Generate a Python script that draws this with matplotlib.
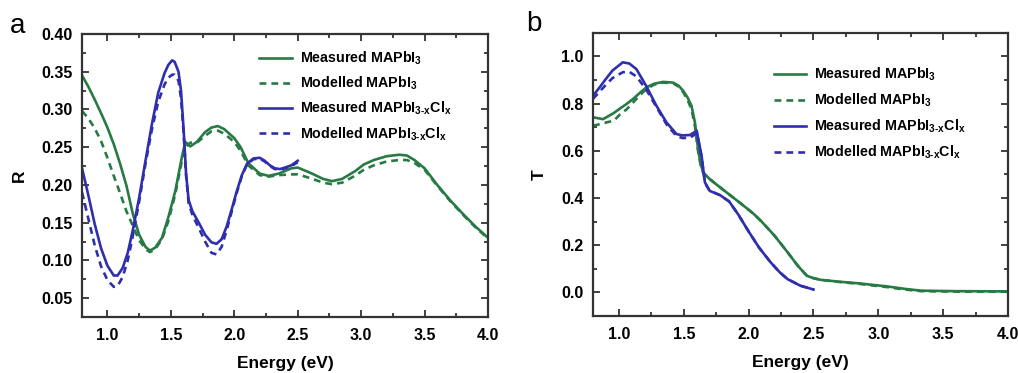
"""Reflectance and transmittance of MAPbI3 and MAPbI3-xClx films."""

import matplotlib

matplotlib.use("Agg")
import matplotlib.pyplot as plt
from matplotlib.ticker import MultipleLocator

plt.rcParams["font.family"] = "Liberation Sans"
plt.rcParams["font.weight"] = "bold"
plt.rcParams["axes.labelweight"] = "bold"
plt.rcParams["mathtext.fontset"] = "custom"
plt.rcParams["mathtext.rm"] = "Liberation Sans:bold"
plt.rcParams["mathtext.it"] = "Liberation Sans:bold"
plt.rcParams["mathtext.bf"] = "Liberation Sans:bold"

GREEN = "#277a44"
BLUE = "#2f2fae"
SPINE = "#333333"

# ---- panel a: reflectance ----
r_mapi_e = [0.80, 0.85, 0.90, 0.95, 1.00, 1.05, 1.10, 1.15, 1.20, 1.25,
            1.30, 1.335, 1.377, 1.43, 1.48, 1.535, 1.587, 1.614, 1.653,
            1.705, 1.77, 1.82, 1.87, 1.92, 2.00, 2.05, 2.11, 2.20, 2.27,
            2.35, 2.45, 2.50, 2.60, 2.70, 2.77, 2.85, 2.95, 3.02, 3.10,
            3.20, 3.30, 3.36, 3.42, 3.50, 3.60, 3.70, 3.80, 3.90, 4.00]
r_mapi_meas = [0.345, 0.330, 0.313, 0.295, 0.276, 0.254, 0.228, 0.199,
               0.162, 0.134, 0.118, 0.113, 0.117, 0.130, 0.157, 0.192,
               0.237, 0.257, 0.251, 0.257, 0.270, 0.276, 0.278, 0.274,
               0.262, 0.250, 0.229, 0.215, 0.212, 0.215, 0.222, 0.223,
               0.216, 0.208, 0.205, 0.208, 0.218, 0.227, 0.233, 0.238,
               0.240, 0.239, 0.233, 0.222, 0.200, 0.180, 0.162, 0.145,
               0.130]
r_mapi_mod = [0.298, 0.288, 0.275, 0.258, 0.236, 0.212, 0.189, 0.165,
              0.146, 0.127, 0.115, 0.111, 0.115, 0.128, 0.152, 0.188,
              0.232, 0.250, 0.256, 0.256, 0.265, 0.271, 0.272, 0.268,
              0.257, 0.245, 0.226, 0.213, 0.211, 0.213, 0.214, 0.214,
              0.209, 0.203, 0.201, 0.203, 0.212, 0.220, 0.226, 0.231,
              0.233, 0.233, 0.229, 0.220, 0.199, 0.179, 0.161, 0.144,
              0.129]

r_mapicl_e = [0.80, 0.85, 0.90, 0.95, 1.00, 1.05, 1.08, 1.12, 1.16, 1.20,
              1.25, 1.30, 1.35, 1.40, 1.45, 1.48, 1.51, 1.53, 1.56, 1.58,
              1.60, 1.62, 1.64, 1.67, 1.72, 1.77, 1.82, 1.86, 1.90, 1.94,
              1.98, 2.02, 2.06, 2.10, 2.15, 2.20, 2.24, 2.28, 2.32, 2.36,
              2.40, 2.45, 2.50]
r_mapicl_meas = [0.222, 0.186, 0.148, 0.116, 0.093, 0.080, 0.080, 0.090,
                 0.110, 0.140, 0.183, 0.232, 0.280, 0.322, 0.348, 0.359,
                 0.365, 0.363, 0.350, 0.325, 0.275, 0.215, 0.180, 0.165,
                 0.150, 0.134, 0.124, 0.122, 0.128, 0.145, 0.168, 0.192,
                 0.213, 0.228, 0.235, 0.236, 0.232, 0.226, 0.222, 0.221,
                 0.223, 0.226, 0.232]
r_mapicl_mod = [0.190, 0.155, 0.120, 0.092, 0.074, 0.065, 0.066, 0.078,
                0.100, 0.132, 0.178, 0.228, 0.273, 0.310, 0.333, 0.342,
                0.346, 0.346, 0.338, 0.315, 0.270, 0.212, 0.176, 0.160,
                0.143, 0.125, 0.110, 0.108, 0.118, 0.140, 0.165, 0.190,
                0.212, 0.227, 0.234, 0.235, 0.231, 0.225, 0.221, 0.220,
                0.222, 0.225, 0.230]

# ---- panel b: transmittance ----
t_mapi_e = [0.80, 0.877, 0.916, 0.96, 1.01, 1.058, 1.11, 1.16, 1.212, 1.27,
            1.341, 1.418, 1.46, 1.496, 1.53, 1.56, 1.586, 1.61, 1.63, 1.65,
            1.70, 1.78, 1.85, 1.92, 2.00, 2.04, 2.10, 2.20, 2.30, 2.38,
            2.45, 2.50, 2.555, 2.70, 2.85, 3.07, 3.20, 3.33, 3.60, 4.00]
t_mapi_meas = [0.742, 0.734, 0.746, 0.760, 0.780, 0.798, 0.820, 0.845,
               0.869, 0.884, 0.892, 0.889, 0.876, 0.854, 0.825, 0.790,
               0.720, 0.607, 0.545, 0.508, 0.480, 0.445, 0.415, 0.385,
               0.350, 0.332, 0.300, 0.240, 0.170, 0.112, 0.070, 0.060,
               0.053, 0.045, 0.038, 0.025, 0.015, 0.007, 0.005, 0.004]
t_mapi_mod = [0.706, 0.716, 0.722, 0.727, 0.755, 0.775, 0.805, 0.835,
              0.862, 0.880, 0.889, 0.886, 0.872, 0.848, 0.815, 0.775,
              0.705, 0.600, 0.540, 0.506, 0.480, 0.445, 0.415, 0.385,
              0.350, 0.332, 0.300, 0.240, 0.170, 0.112, 0.070, 0.060,
              0.053, 0.044, 0.036, 0.022, 0.012, 0.005, 0.003, 0.003]

t_mapicl_e = [0.80, 0.85, 0.90, 0.95, 1.03, 1.08, 1.135, 1.21, 1.29, 1.367,
              1.444, 1.49, 1.548, 1.60, 1.637, 1.663, 1.70, 1.78, 1.85, 1.92,
              2.00, 2.08, 2.17, 2.24, 2.30, 2.40, 2.50]
t_mapicl_meas = [0.833, 0.868, 0.905, 0.940, 0.975, 0.970, 0.946, 0.875,
                 0.790, 0.720, 0.671, 0.665, 0.667, 0.685, 0.579, 0.466,
                 0.430, 0.412, 0.385, 0.330, 0.258, 0.190, 0.127, 0.085,
                 0.056, 0.028, 0.012]
t_mapicl_mod = [0.820, 0.850, 0.880, 0.908, 0.933, 0.935, 0.915, 0.860,
                0.785, 0.712, 0.662, 0.654, 0.655, 0.675, 0.575, 0.464,
                0.430, 0.412, 0.385, 0.330, 0.258, 0.190, 0.127, 0.085,
                0.056, 0.028, 0.012]

LABELS = [
    r"Measured MAPbI$_{3}$",
    r"Modelled MAPbI$_{3}$",
    r"Measured MAPbI$_{3\text{-}x}$Cl$_{x}$",
    r"Modelled MAPbI$_{3\text{-}x}$Cl$_{x}$",
]

LW = 1.9
DASH = (0, (2.6, 1.9))


def style_axes(ax, ylab, ymajor, yminor):
    ax.set_xlim(0.8, 4.0)
    ax.xaxis.set_major_locator(MultipleLocator(0.5))
    ax.xaxis.set_minor_locator(MultipleLocator(0.25))
    ax.yaxis.set_major_locator(MultipleLocator(ymajor))
    ax.yaxis.set_minor_locator(MultipleLocator(yminor))
    ax.tick_params(which="both", direction="in", top=True, right=True,
                   width=1.3, color=SPINE, labelsize=11.5)
    ax.tick_params(which="major", length=5)
    ax.tick_params(which="minor", length=3)
    ax.tick_params(axis="x", pad=8)
    ax.tick_params(axis="y", pad=7)
    for s in ax.spines.values():
        s.set_linewidth(1.6)
        s.set_color(SPINE)
    ax.set_xlabel("Energy (eV)", fontsize=12.5, labelpad=9)
    ax.set_ylabel(ylab, fontsize=12.5, labelpad=10)


fig = plt.figure(figsize=(10.18, 3.73), dpi=100)
ax_a = fig.add_axes([0.0806, 0.150, 0.3988, 0.759])
ax_b = fig.add_axes([0.5825, 0.153, 0.4077, 0.759])

ax_a.plot(r_mapi_e, r_mapi_meas, color=GREEN, lw=LW, label=LABELS[0])
ax_a.plot(r_mapi_e, r_mapi_mod, color=GREEN, lw=LW, ls=DASH,
          label=LABELS[1])
ax_a.plot(r_mapicl_e, r_mapicl_meas, color=BLUE, lw=LW, label=LABELS[2])
ax_a.plot(r_mapicl_e, r_mapicl_mod, color=BLUE, lw=LW, ls=DASH,
          label=LABELS[3])
ax_a.set_ylim(0.025, 0.40)
style_axes(ax_a, "R", 0.05, 0.025)
ax_a.yaxis.set_major_formatter(lambda v, p: f"{v:.2f}")

ax_b.plot(t_mapi_e, t_mapi_meas, color=GREEN, lw=LW, label=LABELS[0])
ax_b.plot(t_mapi_e, t_mapi_mod, color=GREEN, lw=LW, ls=DASH,
          label=LABELS[1])
ax_b.plot(t_mapicl_e, t_mapicl_meas, color=BLUE, lw=LW, label=LABELS[2])
ax_b.plot(t_mapicl_e, t_mapicl_mod, color=BLUE, lw=LW, ls=DASH,
          label=LABELS[3])
ax_b.set_ylim(-0.1, 1.1)
style_axes(ax_b, "T", 0.2, 0.1)
ax_b.yaxis.set_major_formatter(lambda v, p: f"{v:.1f}")

for ax, anchor, spacing in ((ax_a, (0.437, 0.945), 0.55),
                            (ax_b, (0.435, 0.883), 0.6)):
    ax.legend(loc="upper left", bbox_to_anchor=anchor, frameon=False,
              fontsize=10.3, handlelength=2.3, handletextpad=0.5,
              labelspacing=spacing, borderpad=0, borderaxespad=0)

fig.text(0.010, 0.965, "a", fontsize=20, fontweight="normal", va="top")
fig.text(0.517, 0.970, "b", fontsize=20, fontweight="normal", va="top")

fig.savefig("out.png", dpi=100)
